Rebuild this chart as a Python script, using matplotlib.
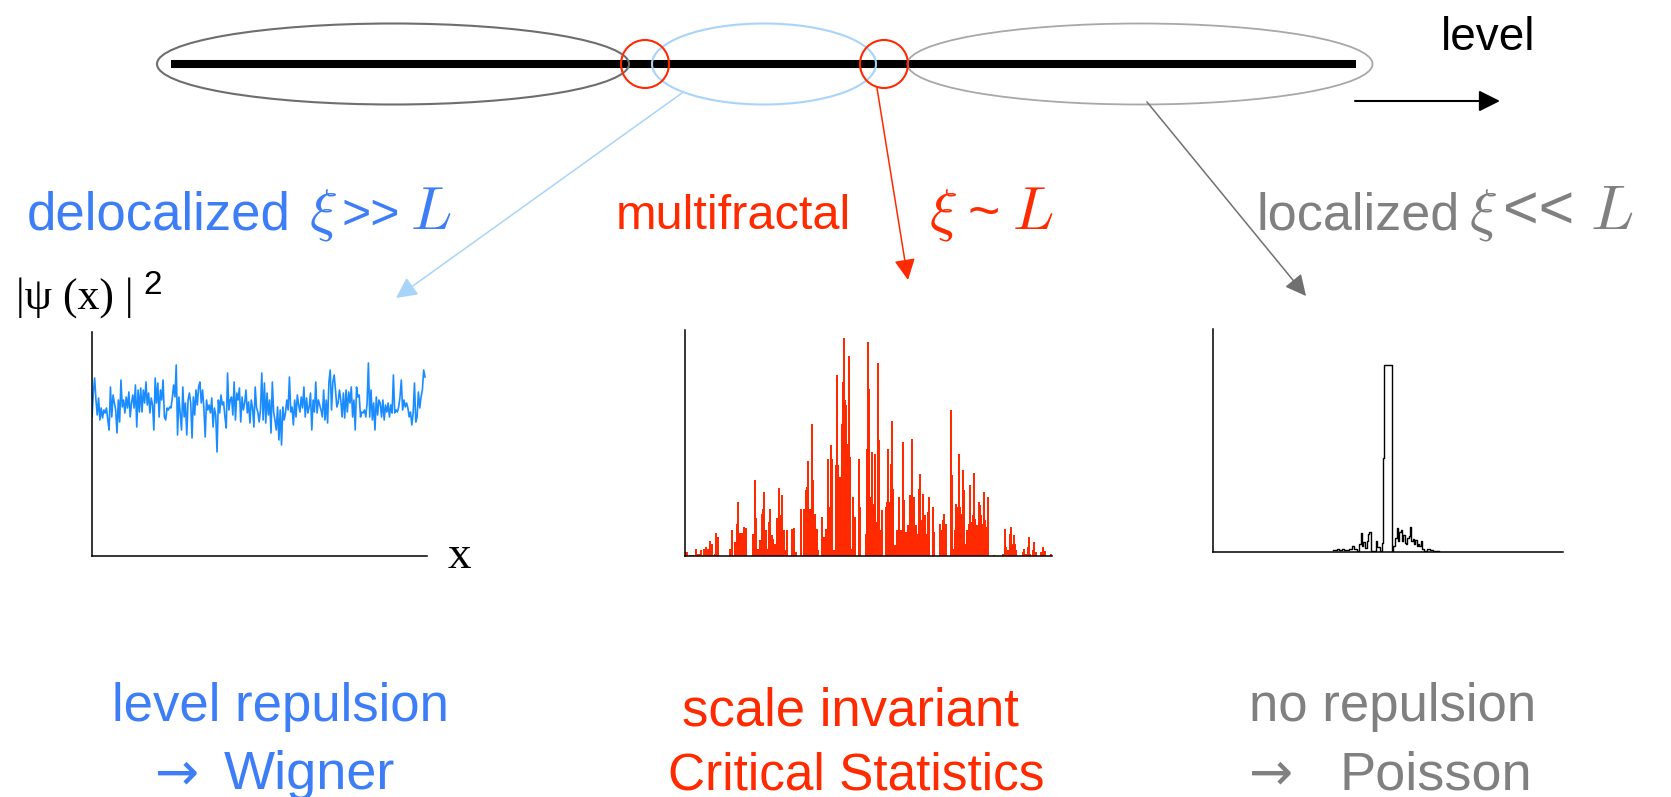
import numpy as np
import matplotlib
matplotlib.use("Agg")
import matplotlib.pyplot as plt
from matplotlib.patches import Ellipse

# |psi(x)|^2 traces, heights in panel units (pixels above the x axis)
deloc_vals = [
    139, 163, 178, 156, 141, 158, 136, 148, 138, 146, 143, 148, 136, 126, 169, 139,
    161, 153, 146, 123, 156, 134, 176, 149, 156, 143, 159, 148, 164, 139, 153, 161,
    148, 171, 129, 166, 144, 168, 144, 166, 153, 174, 151, 163, 143, 158, 151, 126,
    178, 153, 173, 139, 166, 156, 176, 139, 136, 148, 146, 149, 148, 158, 171, 159,
    191, 121, 159, 143, 126, 169, 139, 153, 121, 156, 163, 153, 118, 159, 141, 166,
    151, 169, 174, 153, 166, 148, 119, 156, 146, 151, 143, 158, 129, 148, 141, 104,
    156, 143, 161, 151, 154, 139, 128, 183, 146, 156, 159, 141, 174, 136, 163, 156,
    168, 134, 159, 146, 153, 166, 143, 154, 133, 156, 148, 129, 169, 148, 144, 134,
    146,
    183, 136, 173, 133, 163, 141, 156, 123, 174, 144, 136, 126, 149, 116, 146, 111,
    149, 136, 143, 156, 146, 179, 144, 149, 131, 156, 139, 161, 151, 144, 159, 148,
    169, 139, 158, 143, 149, 163, 126, 156, 144, 174, 143, 156, 151, 146, 139, 166,
    136, 156, 133, 174, 186, 146, 174, 181, 166, 149, 153, 166, 156, 139, 163, 138,
    166, 144, 164, 153, 169, 139, 156, 126, 169, 159, 161, 139, 144, 143, 146, 139,
    153, 193, 139, 166, 136, 153, 126, 159, 141, 156, 153, 139, 156, 136, 151, 144,
    153, 139, 151, 143, 181, 143, 146, 144, 149, 159, 176, 146, 156, 149, 153, 148,
    139, 144, 131, 143, 173, 134, 139, 164, 148, 159, 166, 186, 179,
]

crit_site = [
    0, 2, 5, 8, 11, 13, 15, 16, 19, 21, 23, 25, 27, 30, 31, 33, 35, 38, 43, 45,
    47, 50, 52, 53, 55, 57, 59, 61, 63, 66, 68, 70, 71, 73, 75, 77, 78, 79, 81, 82,
    84, 85, 87, 88, 90, 92, 93, 94, 96, 97, 99, 101, 102, 104, 106, 107, 109, 111, 112, 115,
    116, 119, 121, 122,
    123, 125, 127, 128, 130, 132, 133, 135, 137, 139, 141, 143, 144, 146, 147, 149,
    151, 152, 153, 155, 157, 158, 159, 160, 161, 163, 164, 165, 167, 168, 170, 172,
    174, 175, 177, 179, 181, 182, 183, 184, 185, 187, 188, 190, 192, 193, 194, 195,
    197, 199, 201, 202, 203, 205, 206, 207, 208, 210, 212, 214, 216, 218, 219, 221,
    223, 225, 226, 227, 229, 231, 233, 234, 235, 237, 238, 240,
    242, 243, 244, 246, 248, 249, 251, 254, 255, 256, 258, 259, 261, 263, 265, 266,
    267, 269, 270, 271, 273, 274, 275, 276, 278, 279, 280, 282, 284, 285, 286, 288,
    289, 290, 292, 294, 295, 296, 298, 299, 300, 301, 303, 305, 309, 314, 317, 318,
    320, 321, 323, 325, 326, 327, 329, 330, 331, 334, 337, 338, 339, 341, 343, 344,
    345, 348, 349, 351, 353, 356, 357, 358, 360, 361, 365, 366,
]
crit_vals = [
    4, 4, 1, 1, 7, 2, 2, 6, 7, 9, 7, 15, 12, 2, 23, 19, 0, 0, 0, 7,
    26, 14, 32, 54, 23, 23, 29, 28, 0, 0, 22, 76, 38, 7, 16, 42, 47, 64, 26, 7,
    34, 47, 21, 17, 12, 38, 19, 68, 41, 61, 26, 6, 26, 0, 0, 27, 28, 4, 0, 0,
    47, 47, 66, 69,
    95, 47, 132, 76, 42, 27, 6, 0, 39, 19, 27, 97, 49, 111, 97, 6,
    91, 181, 91, 79, 132, 174, 218, 156, 151, 112, 200, 99, 7, 59, 39, 0,
    97, 49, 0, 0, 22, 107, 214, 167, 59, 104, 52, 102, 34, 193, 116, 26,
    46, 0, 49, 54, 107, 54, 92, 135, 67, 11, 26, 59, 26, 114, 56, 24,
    31, 61, 31, 117, 59, 31, 22, 67, 82, 36, 62, 41,
    22, 44, 59, 0, 49, 24, 0, 0, 32, 26, 36, 42, 32, 0, 0, 146,
    81, 7, 26, 52, 49, 102, 49, 42, 86, 66, 12, 26, 32, 71, 34, 41,
    83, 37, 31, 54, 51, 41, 32, 64, 36, 29, 59, 0, 1, 0, 0, 2,
    27, 9, 6, 22, 29, 12, 21, 12, 6, 0, 0, 4, 7, 2, 9, 19,
    2, 6, 14, 4, 0, 4, 3, 9, 5, 0, 0, 2,
]

loc_site = [
    120.3, 123.7, 126.3, 128.7, 131.0, 133.7, 136.3, 139.0, 141.0, 143.7, 146.3, 147.7,
    149.0, 150.3, 151.7, 153.7, 155.0, 156.3, 158.3, 161.0, 163.0, 164.3, 167.0, 169.0,
    169.5, 171.0, 178.7, 180.3, 182.0, 183.7, 185.0, 186.3, 187.7, 189.0, 190.3, 191.7,
    193.0, 194.3, 195.7, 197.0, 198.3, 199.7, 201.0, 202.3, 203.7, 205.0, 206.3, 207.7,
    209.0, 211.0, 214.3, 217.0, 220.3, 223.0, 226.3,
]
loc_vals = [
    2, 3, 2, 3, 2, 2, 3, 6, 3, 1, 8, 19,
    6, 10, 4, 11, 18, 20, 1, 1, 11, 5, 1, 9,
    94, 187, 1, 6, 14, 24, 11, 20, 22, 11, 17, 9,
    8, 14, 16, 25, 11, 13, 8, 12, 6, 8, 6, 11,
    3, 1, 3, 2, 1, 1, 1,
]

BLUE_TXT = "#3d7ef7"
BLUE_SIG = "#1a8cff"
BLUE_LIGHT = "#a9d4fa"
RED = "#ff2a00"
GRAY_TXT = "#808080"
GRAY_DARK = "#6e6e6e"
GRAY_LIGHT = "#a8a8a8"

W, H = 1671, 797
SANS = ["Liberation Sans", "DejaVu Sans"]
SERIF = ["Liberation Serif", "DejaVu Serif"]

plt.rcParams["mathtext.fontset"] = "cm"

fig = plt.figure(figsize=(W / 100, H / 100), dpi=100)
bg = fig.add_axes([0, 0, 1, 1])
bg.set_xlim(0, W)
bg.set_ylim(H, 0)
bg.axis("off")

# energy axis with the three regimes
bg.plot([171, 1356], [64, 64], color="black", lw=5.8, solid_capstyle="butt", zorder=1)
bg.add_patch(Ellipse((393, 64), 472, 81, fill=False, ec=GRAY_DARK, lw=1.5, zorder=2))
bg.add_patch(Ellipse((764, 64), 224, 81, fill=False, ec=BLUE_LIGHT, lw=1.5, zorder=2))
bg.add_patch(Ellipse((1140, 64), 465, 81, fill=False, ec=GRAY_LIGHT, lw=1.3, zorder=2))
for cx in (645, 884):
    bg.add_patch(Ellipse((cx, 64), 48, 48, fill=False, ec=RED, lw=1.5, zorder=3))


def arrow(start, tip, color, lw=1.1, scale=32):
    bg.annotate("", xy=tip, xytext=start,
                arrowprops=dict(arrowstyle="-|>", color=color, lw=lw,
                                mutation_scale=scale, shrinkA=0, shrinkB=0))


arrow((682, 93), (396, 298), BLUE_LIGHT)
arrow((877, 88), (908, 280), RED)
arrow((1147, 102), (1306, 296), "#707070")
arrow((1355, 101), (1500, 101), "black", lw=1.5)

bg.text(1441, 50, "level", fontsize=33, family=SANS, color="black")


def label(parts, y, color):
    # parts: (x, text, size) pieces sharing one baseline
    for x, s, size in parts:
        bg.text(x, y, s, fontsize=size, family=SANS, color=color)


# regime labels
label([(27, "delocalized", 38), (309, r"$\xi$", 42), (341, ">>", 36), (410, r"$L$", 44)],
      229, BLUE_TXT)
label([(616, "multifractal", 35), (929, r"$\xi$", 42), (968, "~", 40), (1012, r"$L$", 44)],
      229, RED)
label([(1257, "localized", 37.5), (1469, r"$\xi$", 42), (1503, "<<", 44), (1590, r"$L$", 46)],
      229, GRAY_TXT)

# spectral statistics
bg.text(280, 721, "level repulsion", fontsize=38, family=SANS, color=BLUE_TXT, ha="center")
bg.text(155, 789, "\u2192", fontsize=38, family=["DejaVu Sans"], color=BLUE_TXT)
bg.text(224, 789, "Wigner", fontsize=39, family=SANS, color=BLUE_TXT)
bg.text(850, 725, "scale invariant", fontsize=38, family=SANS, color=RED, ha="center")
bg.text(856, 789, "Critical Statistics", fontsize=37, family=SANS, color=RED, ha="center")
bg.text(1393, 721, "no repulsion", fontsize=38, family=SANS, color=GRAY_TXT, ha="center")
bg.text(1249, 789, "\u2192", fontsize=38, family=["DejaVu Sans"], color=GRAY_TXT)
bg.text(1340, 789, "Poisson", fontsize=39, family=SANS, color=GRAY_TXT)

bg.text(16, 309, "|\u03c8 (x) |", fontsize=31.5, family=SERIF, color="black")
bg.text(143, 294, "2", fontsize=24, family=SANS, color="black")
bg.text(448, 568, "x", fontsize=34, family=SERIF, color="black")


def panel(x0, y0, x1, y1):
    ax = fig.add_axes([x0 / W, 1 - y1 / H, (x1 - x0) / W, (y1 - y0) / H])
    ax.set_xlim(0, x1 - x0)
    ax.set_ylim(0, y1 - y0)
    ax.patch.set_alpha(0)
    for side in ("top", "right"):
        ax.spines[side].set_visible(False)
    for side in ("left", "bottom"):
        ax.spines[side].set_linewidth(1.1)
    ax.set_xticks([])
    ax.set_yticks([])
    return ax


ax1 = panel(92, 332, 427, 556)
ax1.plot(np.linspace(0, 333, len(deloc_vals)), deloc_vals, color=BLUE_SIG, lw=1.2)

ax2 = panel(685, 330, 1052, 556)
ax2.bar(crit_site, crit_vals, width=2.0, color=RED, linewidth=0)

ax3 = panel(1213, 329, 1563, 552)
ax3.plot(loc_site, loc_vals, color="black", lw=1.0, drawstyle="steps-post")

fig.savefig("out.png", dpi=100)
